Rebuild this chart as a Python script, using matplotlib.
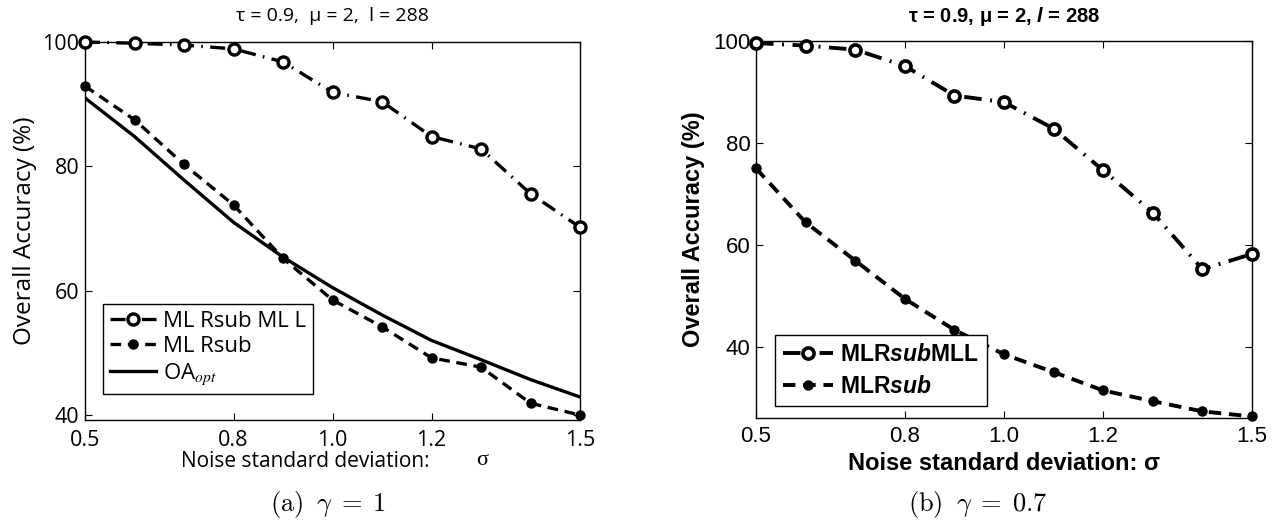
import matplotlib

matplotlib.use("Agg")
import matplotlib.pyplot as plt

# noise levels (sigma) shared by both panels
sigma = [0.5, 0.6, 0.7, 0.8, 0.9, 1.0, 1.1, 1.2, 1.3, 1.4, 1.5]

# panel (a), gamma = 1
a_mlrsub_mll = [100.0, 99.8, 99.5, 98.9, 96.8, 91.9, 90.4, 84.8, 82.8, 75.6, 70.2]
a_mlrsub = [92.9, 87.5, 80.3, 73.8, 65.2, 58.5, 54.2, 49.2, 47.7, 41.9, 40.0]
a_oa_opt = [91.0, 84.8, 77.8, 71.0, 65.4, 60.5, 56.1, 52.0, 48.9, 45.7, 42.9]

# panel (b), gamma = 0.7
b_mlrsub_mll = [99.6, 99.1, 98.3, 95.1, 89.3, 88.0, 82.8, 74.6, 66.3, 55.2, 58.2]
b_mlrsub = [75.0, 64.4, 56.9, 49.4, 43.3, 38.5, 35.0, 31.4, 29.3, 27.3, 26.3]

xticks = [0.5, 0.8, 1.0, 1.2, 1.5]
xtick_labels = ["0.5", "0.8", "1.0", "1.2", "1.5"]
yticks = [40, 60, 80, 100]

plt.rcParams["mathtext.fontset"] = "custom"
plt.rcParams["mathtext.it"] = "Liberation Sans:italic:bold"
plt.rcParams["mathtext.rm"] = "Liberation Sans:bold"

W, H = 1284, 522
fig = plt.figure(figsize=(W / 100, H / 100), dpi=100)


def box(x0, y0, x1, y1):
    return [x0 / W, 1 - y1 / H, (x1 - x0) / W, (y1 - y0) / H]


dashdot = (0, (4.5, 2.2, 0.5, 2.2))
dashed = (0, (3.2, 2.0))


def style_axes(ax, size, family, xpad):
    ax.set_xlim(0.5, 1.5)
    ax.set_xticks(xticks)
    ax.set_xticklabels(xtick_labels)
    ax.set_yticks(yticks)
    ax.tick_params(direction="in", top=True, right=True, length=5, width=0.8,
                   labelsize=size, pad=4)
    ax.tick_params(axis="x", pad=xpad)
    for lab in ax.get_xticklabels() + ax.get_yticklabels():
        lab.set_family(family)
    for sp in ax.spines.values():
        sp.set_linewidth(1.0)


# ---- panel (a)
ax1 = fig.add_axes(box(85, 42, 580, 420))
ax1.plot(sigma, a_mlrsub_mll, color="black", lw=2.4, ls=dashdot, marker="o",
         ms=8, mfc="white", mec="black", mew=2.4, label="ML Rsub ML L",
         clip_on=False, zorder=4)
ax1.plot(sigma, a_mlrsub, color="black", lw=2.4, ls=dashed, marker="o",
         ms=6.5, mfc="black", mec="black", label="ML Rsub", clip_on=False,
         zorder=3)
ax1.plot(sigma, a_oa_opt, color="black", lw=2.4, ls="-", label=r"OA$_{opt}$",
         zorder=2)
ax1.set_ylim(39.2, 100)
style_axes(ax1, 15.5, "Open Sans", 7)
ax1.set_ylabel("Overall Accuracy (%)", family="Open Sans", fontsize=17.5,
               labelpad=4)
ax1.set_title("τ = 0.9,  μ = 2,  l = 288", family="Open Sans", fontsize=14,
              pad=15)
ax1.set_xlabel("Noise standard deviation:", family="Open Sans", fontsize=15,
               labelpad=2)
ax1.xaxis.set_label_coords(0.444, -0.082)
ax1.text(0.802, -0.082, "σ", transform=ax1.transAxes, family="Liberation Serif",
         fontsize=16, ha="center", va="top")

leg1 = ax1.legend(loc="upper left", bbox_to_anchor=(103 / W, 1 - 304 / H),
                  bbox_transform=fig.transFigure, borderaxespad=0,
                  prop={"family": "Open Sans", "size": 16}, handlelength=2.1,
                  handletextpad=0.3, labelspacing=0.2, borderpad=0.3,
                  fancybox=False, framealpha=1, edgecolor="black")
leg1.get_frame().set_linewidth(1.0)
leg1.get_texts()[2].set_math_fontfamily("stix")

# ---- panel (b)
ax2 = fig.add_axes(box(756, 41, 1252, 418))
ax2.plot(sigma, b_mlrsub_mll, color="black", lw=2.8, ls=dashdot, marker="o",
         ms=8, mfc="white", mec="black", mew=2.6, label=r"MLR$\mathit{sub}$MLL",
         clip_on=False, zorder=4)
ax2.plot(sigma, b_mlrsub, color="black", lw=2.8, ls=dashed, marker="o",
         ms=6.5, mfc="black", mec="black", label=r"MLR$\mathit{sub}$",
         clip_on=False, zorder=3)
ax2.set_ylim(26, 100)
style_axes(ax2, 16, "Liberation Sans", 6)
ax2.set_ylabel("Overall Accuracy (%)", family="Liberation Sans",
               weight="bold", fontsize=17, labelpad=6)
ax2.set_title(r"τ = 0.9, μ = 2, $\mathit{l}$ = 288", family="Liberation Sans",
              weight="bold", fontsize=14.5, pad=14)
ax2.set_xlabel("Noise standard deviation: σ", family="Liberation Sans",
               weight="bold", fontsize=17, labelpad=3)

leg2 = ax2.legend(loc="upper left", bbox_to_anchor=(775 / W, 1 - 335 / H),
                  bbox_transform=fig.transFigure, borderaxespad=0,
                  prop={"family": "Liberation Sans", "weight": "bold",
                        "size": 16.5},
                  handlelength=2.2, handletextpad=0.3, labelspacing=0.4,
                  borderpad=0.35, fancybox=False, framealpha=1,
                  edgecolor="black")
leg2.get_frame().set_linewidth(1.0)

# sub-figure captions
fig.text(328 / W, 1 - 504 / H, r"$\mathrm{(a)}\;\; \gamma \;=\; 1$",
         math_fontfamily="cm", fontsize=19, ha="center", va="center")
fig.text(978 / W, 1 - 504 / H, r"$\mathrm{(b)}\;\; \gamma \;=\; 0.7$",
         math_fontfamily="cm", fontsize=19, ha="center", va="center")

fig.savefig("out.png", dpi=100)
